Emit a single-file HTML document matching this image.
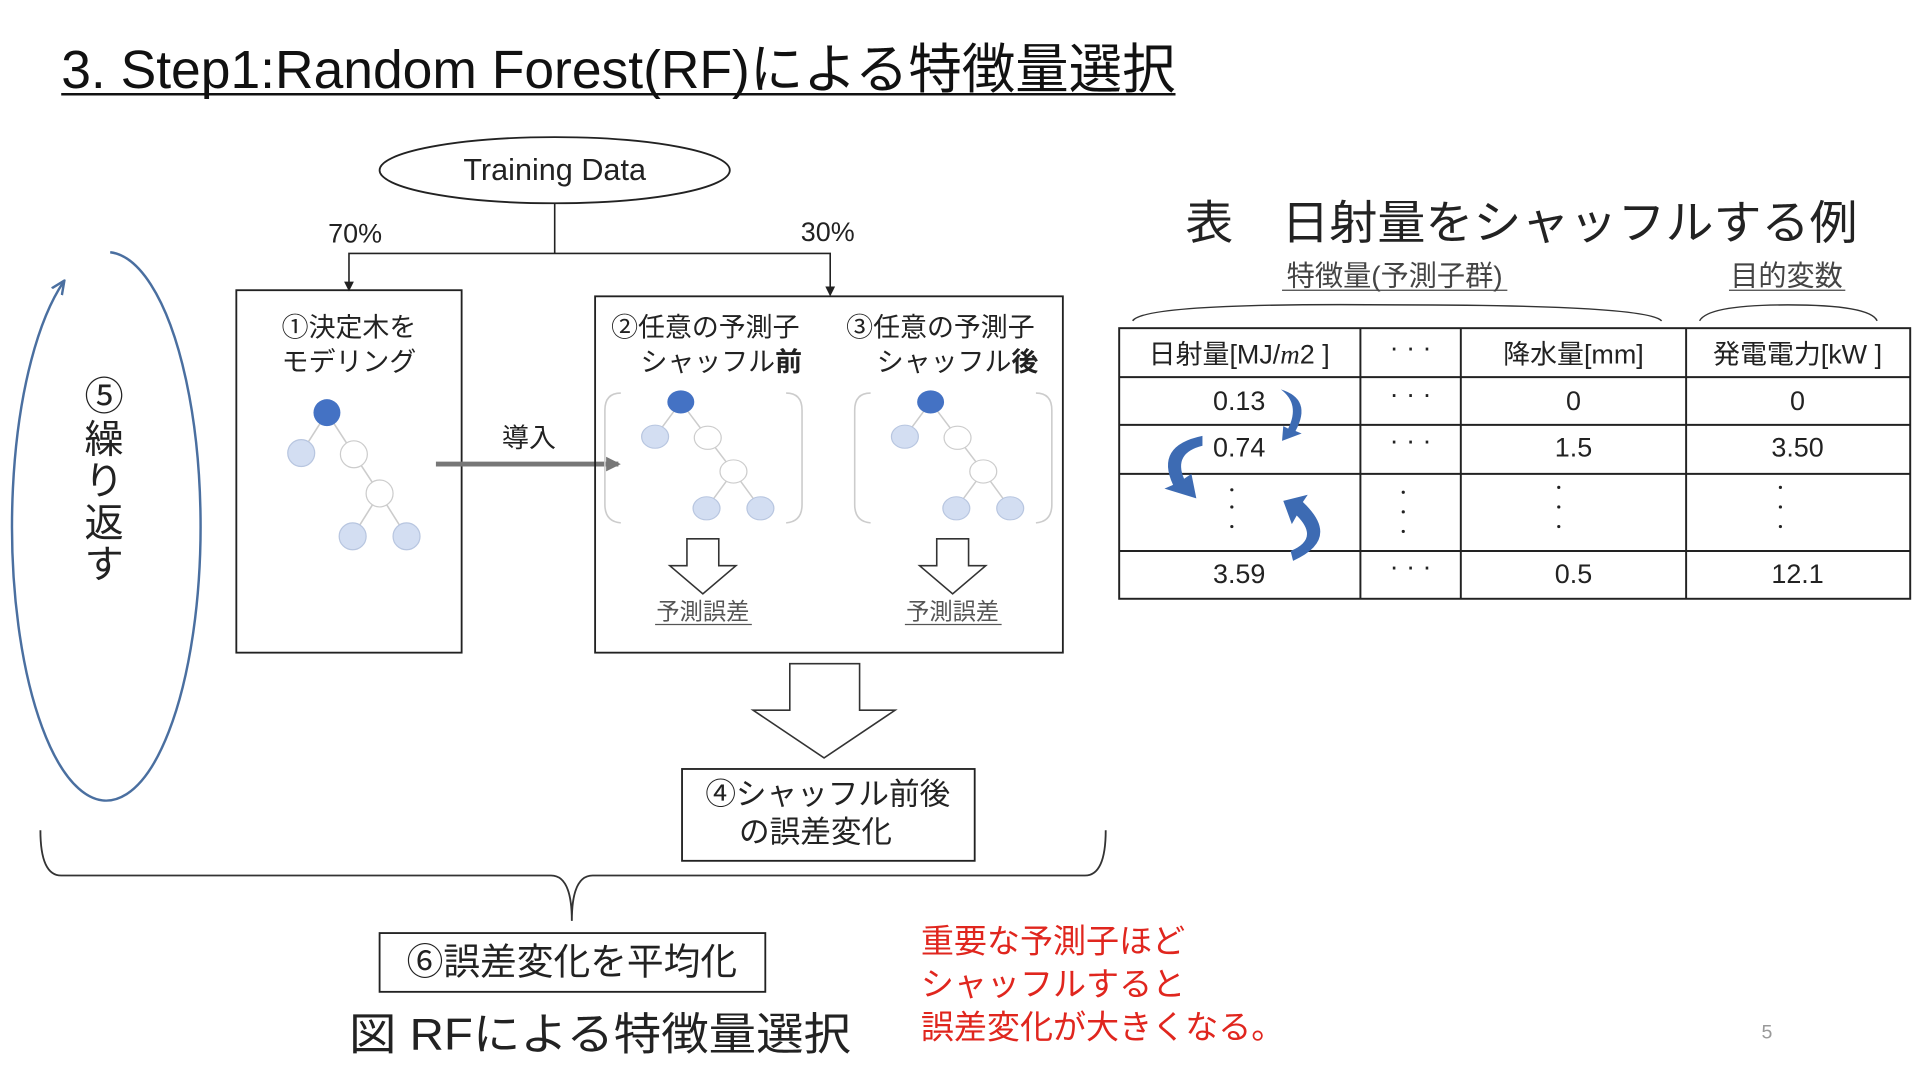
<!DOCTYPE html>
<html><head><meta charset="utf-8"><style>
html,body{margin:0;padding:0;background:#fff;width:1920px;height:1080px;overflow:hidden}
text{font-family:"Liberation Sans","Noto Sans CJK JP",sans-serif;}
</style></head><body>
<svg width="1920" height="1080" viewBox="0 0 1568 882" xmlns="http://www.w3.org/2000/svg">
<defs>
<marker id="ag" markerWidth="12" markerHeight="12" refX="10" refY="6" orient="auto" markerUnits="userSpaceOnUse"><path d="M0,0 L12,6 L0,12 z" fill="#777"/></marker>
<marker id="ab" markerWidth="12" markerHeight="12" refX="10" refY="6" orient="auto" markerUnits="userSpaceOnUse"><path d="M0,1 L11,6 L0,11" fill="none" stroke="#4a6fa0" stroke-width="2"/></marker>
</defs>
<text x="50" y="72" font-size="44" textLength="910" lengthAdjust="spacingAndGlyphs" fill="#111">3. Step1:Random Forest(RF)による特徴量選択</text>
<line x1="50" y1="77" x2="960" y2="77" stroke="#111" stroke-width="2"/>

<ellipse cx="453" cy="139" rx="143" ry="27" fill="#fff" stroke="#222" stroke-width="1.5"/>
<text x="453" y="147" font-size="25" text-anchor="middle" fill="#222">Training Data</text>
<line x1="453" y1="166" x2="453" y2="207" stroke="#222" stroke-width="1.3"/>
<polyline points="285,237 285,207 678,207 678,241" fill="none" stroke="#222" stroke-width="1.3"/>
<path d="M281,230 L285,238 L289,230 z" fill="#222"/>
<path d="M674,234 L678,242 L682,234 z" fill="#222"/>
<text x="290" y="198" font-size="22" text-anchor="middle" fill="#222">70%</text>
<text x="676" y="197" font-size="22" text-anchor="middle" fill="#222">30%</text>

<rect x="193" y="237" width="184" height="296" fill="none" stroke="#222" stroke-width="1.5"/>
<text x="285" y="275" font-size="22" text-anchor="middle" fill="#222">①決定木を</text>
<text x="285" y="303" font-size="22" text-anchor="middle" fill="#222">モデリング</text>
<g id="tree">
<g stroke="#ccc" stroke-width="1.3"><line x1="267" y1="337" x2="246" y2="370"/><line x1="267" y1="337" x2="289" y2="371"/><line x1="289" y1="371" x2="310" y2="403"/><line x1="310" y1="403" x2="288" y2="438"/><line x1="310" y1="403" x2="332" y2="438"/></g>
<circle cx="267" cy="337" r="11" fill="#4472c4"/>
<circle cx="246" cy="370" r="11" fill="#d3def2" stroke="#b8c6e0"/>
<circle cx="289" cy="371" r="11" fill="#fff" stroke="#ccc"/>
<circle cx="310" cy="403" r="11" fill="#fff" stroke="#ccc"/>
<circle cx="288" cy="438" r="11" fill="#d3def2" stroke="#b8c6e0"/>
<circle cx="332" cy="438" r="11" fill="#d3def2" stroke="#b8c6e0"/>
</g>
<line x1="356" y1="379" x2="505" y2="379" stroke="#777" stroke-width="4" marker-end="url(#ag)"/>
<text x="432" y="365" font-size="22" text-anchor="middle" fill="#222">導入</text>

<rect x="486" y="242" width="382" height="291" fill="none" stroke="#222" stroke-width="1.5"/>
<text x="576" y="275" font-size="22" text-anchor="middle" fill="#222">②任意の予測子</text>
<text x="589" y="303" font-size="22" text-anchor="middle" fill="#222">シャッフル<tspan font-weight="bold">前</tspan></text>
<text x="768" y="275" font-size="22" text-anchor="middle" fill="#222">③任意の予測子</text>
<text x="782" y="303" font-size="22" text-anchor="middle" fill="#222">シャッフル<tspan font-weight="bold">後</tspan></text>
<g fill="none" stroke="#ccc" stroke-width="1.3">
<path d="M507,321 Q494,321 494,335 L494,412 Q494,426 507,427"/>
<path d="M642,321 Q655,321 655,335 L655,412 Q655,426 642,427"/>
<path d="M711,321 Q698,321 698,335 L698,412 Q698,426 711,427"/>
<path d="M846,321 Q859,321 859,335 L859,412 Q859,426 846,427"/>
</g>
<g transform="translate(289,-8) scale(1,0.86) translate(0,54)"><use href="#tree"/></g>
<g transform="translate(493,-8) scale(1,0.86) translate(0,54)"><use href="#tree"/></g>
<g fill="#fff" stroke="#333" stroke-width="1.3">
<path d="M561,440 L587,440 L587,462 L601,462 L574,485 L547,462 L561,462 z"/>
<path d="M765,440 L791,440 L791,462 L805,462 L778,485 L751,462 L765,462 z"/>
<path d="M645,542 L702,542 L702,580 L731,580 L673,619 L615,580 L645,580 z"/>
</g>
<text x="574" y="506" font-size="19" text-anchor="middle" fill="#555">予測誤差</text>
<line x1="535" y1="510" x2="614" y2="510" stroke="#555"/>
<text x="778" y="506" font-size="19" text-anchor="middle" fill="#555">予測誤差</text>
<line x1="739" y1="510" x2="818" y2="510" stroke="#555"/>

<rect x="557" y="628" width="239" height="75" fill="none" stroke="#222" stroke-width="1.5"/>
<text x="676" y="657" font-size="25" text-anchor="middle" fill="#222">④シャッフル前後</text>
<text x="666" y="688" font-size="25" text-anchor="middle" fill="#222">の誤差変化</text>

<path d="M33,678 Q33,715 50,715 L450,715 Q467,715 467,752 Q467,715 484,715 L886,715 Q903,715 903,678" fill="none" stroke="#333" stroke-width="1.5"/>
<rect x="310" y="762" width="315" height="48" fill="none" stroke="#222" stroke-width="1.5"/>
<text x="467" y="796" font-size="30" text-anchor="middle" fill="#222">⑥誤差変化を平均化</text>
<text x="285" y="857" font-size="36" fill="#222" textLength="410" lengthAdjust="spacingAndGlyphs">図 RFによる特徴量選択</text>

<text font-size="27" fill="#e0261e"><tspan x="752" y="778">重要な予測子ほど</tspan><tspan x="752" y="813">シャッフルすると</tspan><tspan x="752" y="848">誤差変化が大きくなる。</tspan></text>
<text x="1443" y="848" font-size="16" text-anchor="middle" fill="#999">5</text>

<path d="M90,206 A77 224 0 1 1 52,230" fill="none" stroke="#4a6fa0" stroke-width="2" marker-end="url(#ab)"/>
<text font-size="32" fill="#222" text-anchor="middle"><tspan x="85" y="335">⑤</tspan><tspan x="85" y="370">繰</tspan><tspan x="85" y="404">り</tspan><tspan x="85" y="438">返</tspan><tspan x="85" y="472">す</tspan></text>

<text x="968" y="195" font-size="38" fill="#222" textLength="549" lengthAdjust="spacingAndGlyphs">表　日射量をシャッフルする例</text>
<text x="1139" y="233" font-size="23" text-anchor="middle" fill="#444">特徴量(予測子群)</text>
<line x1="1047" y1="237" x2="1231" y2="237" stroke="#444"/>
<text x="1459" y="233" font-size="23" text-anchor="middle" fill="#444">目的変数</text>
<line x1="1412" y1="237" x2="1507" y2="237" stroke="#444"/>
<path d="M925,262 Q935,247 1140,249 Q1345,249 1357,262" fill="none" stroke="#333" stroke-width="1.2"/>
<path d="M1388,262 Q1395,249 1460,249 Q1527,249 1533,262" fill="none" stroke="#333" stroke-width="1.2"/>
<g stroke="#222" stroke-width="1.6" fill="none">
<rect x="914" y="268" width="646" height="221"/>
<line x1="1111" y1="268" x2="1111" y2="489"/><line x1="1193" y1="268" x2="1193" y2="489"/><line x1="1377" y1="268" x2="1377" y2="489"/>
<line x1="914" y1="308" x2="1560" y2="308"/><line x1="914" y1="347" x2="1560" y2="347"/><line x1="914" y1="387" x2="1560" y2="387"/><line x1="914" y1="450" x2="1560" y2="450"/>
</g>
<g font-size="22" fill="#222" text-anchor="middle">
<text x="1012" y="297">日射量[MJ/<tspan font-style="italic" font-family="Liberation Serif">m</tspan>2 ]</text>
<text x="1152" y="291">· · ·</text>
<text x="1285" y="297">降水量[mm]</text>
<text x="1468" y="297">発電電力[kW ]</text>
<text x="1012" y="335">0.13</text><text x="1152" y="329">· · ·</text><text x="1285" y="335">0</text><text x="1468" y="335">0</text>
<text x="1012" y="373">0.74</text><text x="1152" y="367">· · ·</text><text x="1285" y="373">1.5</text><text x="1468" y="373">3.50</text>
<text x="1012" y="476">3.59</text><text x="1152" y="470">· · ·</text><text x="1285" y="476">0.5</text><text x="1468" y="476">12.1</text>
</g>
<g fill="#222">
<circle cx="1006" cy="400" r="1.3"/><circle cx="1006" cy="414" r="1.3"/><circle cx="1006" cy="430" r="1.3"/>
<circle cx="1146" cy="402" r="1.3"/><circle cx="1146" cy="418" r="1.3"/><circle cx="1146" cy="434" r="1.3"/>
<circle cx="1273" cy="398" r="1.3"/><circle cx="1273" cy="414" r="1.3"/><circle cx="1273" cy="430" r="1.3"/>
<circle cx="1454" cy="398" r="1.3"/><circle cx="1454" cy="414" r="1.3"/><circle cx="1454" cy="430" r="1.3"/>
</g>
<g fill="#3d6bb3">
<path d="M1046,318 Q1072,326 1058,352 L1063,354 L1047,360 L1048,348 L1052,350 Q1062,330 1046,318 z"/>
<path d="M982,356 Q943,364 958,396 L951,399 L977,407 L973,387 L967,391 Q958,370 982,364 z"/>
<path d="M1056,458 Q1096,440 1064,410 L1068,404 L1048,409 L1055,428 L1059,421 Q1078,440 1054,450 z"/>
</g>
</svg>
</body></html>
